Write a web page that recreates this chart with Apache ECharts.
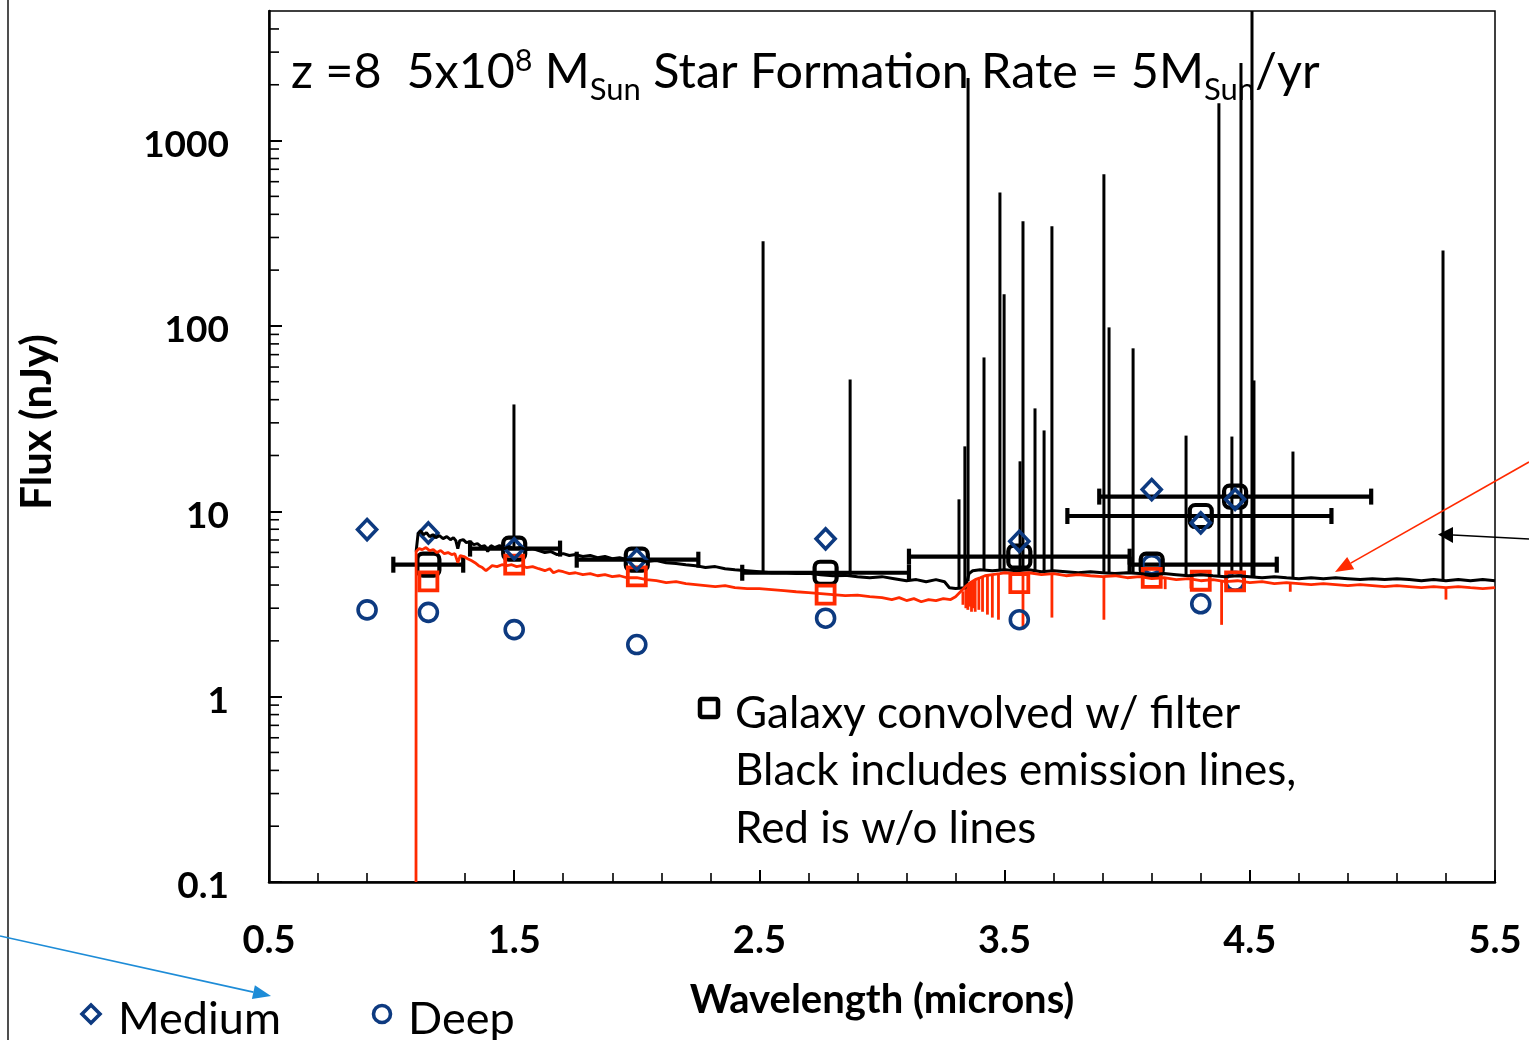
<!DOCTYPE html>
<html>
<head>
<meta charset="utf-8">
<script src="https://cdn.jsdelivr.net/npm/echarts@6/dist/echarts.min.js"></script>
<style>
html,body{margin:0;padding:0;background:#fff;}
#chart{width:1529px;height:1040px;}
</style>
</head>
<body>
<div id="chart"></div>
<script>
// ---------------- DATA ----------------
// Black spectrum continuum (with lines model), [wavelength micron, flux nJy]
const blackCont = [
[1.100,6.06],[1.108,7.57],[1.118,7.86],[1.130,7.48],[1.142,7.67],[1.155,7.30],[1.168,7.48],[1.180,7.21],
[1.195,7.39],[1.210,7.12],[1.225,7.30],[1.240,7.03],[1.252,7.21],[1.262,6.94],[1.270,6.29],[1.278,6.94],
[1.292,7.03],[1.305,6.77],[1.320,6.86],[1.335,6.61],[1.350,6.69],[1.365,6.45],[1.380,6.53],[1.392,6.06],
[1.405,6.53],[1.420,6.37],[1.440,6.53],[1.460,6.29],[1.480,6.45],[1.500,6.29],[1.525,6.37],[1.550,6.21],
[1.575,6.29],[1.600,6.14],[1.625,5.99],[1.650,6.06],[1.675,5.84],[1.700,5.91],[1.725,5.77],[1.750,5.84],
[1.780,5.70],[1.810,5.77],[1.840,5.62],[1.870,5.70],[1.900,5.55],[1.930,5.62],[1.960,5.48],[2.000,5.48],
[2.040,5.35],[2.080,5.42],[2.120,5.28],[2.160,5.22],[2.200,5.15],[2.240,5.09],[2.280,4.97],[2.320,5.03],
[2.360,4.90],[2.400,4.84],[2.450,4.78],[2.500,4.72],[2.550,4.66],[2.600,4.68],[2.650,4.61],[2.700,4.63],
[2.750,4.55],[2.800,4.49],[2.850,4.51],[2.900,4.44],[2.950,4.38],[3.000,4.44],[3.050,4.33],[3.100,4.22],
[3.140,4.28],[3.180,4.17],[3.220,4.28],[3.255,4.17],[3.275,3.87],[3.300,3.83],[3.340,3.87],[3.355,4.61],
[3.370,4.78],[3.400,4.84],[3.450,4.78],[3.500,4.84],[3.550,4.78],[3.600,4.84],[3.650,4.72],[3.700,4.78],
[3.750,4.72],[3.800,4.66],[3.850,4.72],[3.900,4.66],[3.950,4.61],[4.000,4.66],[4.050,4.61],[4.100,4.55],
[4.150,4.61],[4.200,4.55],[4.250,4.49],[4.300,4.55],[4.350,4.49],[4.400,4.44],[4.450,4.49],[4.500,4.44],
[4.550,4.38],[4.600,4.44],[4.650,4.38],[4.700,4.33],[4.750,4.38],[4.800,4.33],[4.850,4.38],[4.900,4.33],
[4.950,4.28],[5.000,4.33],[5.050,4.28],[5.100,4.33],[5.150,4.28],[5.200,4.22],[5.250,4.28],[5.300,4.22],
[5.350,4.28],[5.400,4.22],[5.450,4.28],[5.500,4.22]
];
// Emission lines in black spectrum: [wavelength, continuum base, peak]
const emissionLines = [
[1.499,6.3,37.7],[2.515,4.7,286],[2.870,4.47,51.4],[3.314,3.85,11.6],[3.338,3.87,22.4],[3.351,4.2,2174],
[3.416,4.8,67.6],[3.481,4.8,525],[3.498,4.84,148],[3.563,4.8,18.6],[3.575,4.8,367],[3.624,4.8,35.9],
[3.661,4.75,27.3],[3.693,4.78,345],[3.905,4.66,659],[3.926,4.64,98.2],[4.024,4.64,75.7],[4.240,4.5,25.6],
[4.374,4.47,1590],[4.427,4.46,25.3],[4.464,4.47,2618],[4.509,4.44,5000],[4.517,4.43,50.8],[4.676,4.36,21.0],
[5.288,4.23,255]
];
// Red spectrum (without lines)
const redCont = [
[1.0995,0.1],[1.100,6.06],[1.112,6.29],[1.125,6.21],[1.140,6.37],[1.155,6.14],[1.170,6.21],[1.185,5.99],
[1.200,6.14],[1.215,5.91],[1.230,5.99],[1.245,5.84],[1.258,5.91],[1.270,5.28],[1.280,5.77],[1.295,5.70],
[1.310,5.55],[1.325,5.42],[1.340,5.28],[1.355,5.09],[1.370,4.97],[1.385,4.78],[1.395,4.90],[1.410,5.09],
[1.430,5.03],[1.450,5.15],[1.470,5.09],[1.490,5.15],[1.510,5.03],[1.530,5.09],[1.550,4.97],[1.575,5.03],
[1.600,4.90],[1.625,4.78],[1.645,4.90],[1.660,4.66],[1.680,4.78],[1.700,4.72],[1.725,4.61],[1.750,4.66],
[1.780,4.55],[1.810,4.61],[1.840,4.49],[1.870,4.55],[1.900,4.44],[1.930,4.49],[1.960,4.38],[2.000,4.38],
[2.040,4.28],[2.080,4.22],[2.120,4.12],[2.160,4.17],[2.200,4.07],[2.240,4.02],[2.280,3.97],[2.320,3.92],
[2.360,3.97],[2.400,3.87],[2.450,3.83],[2.500,3.83],[2.550,3.78],[2.600,3.73],[2.650,3.68],[2.700,3.64],
[2.750,3.60],[2.800,3.55],[2.850,3.51],[2.900,3.53],[2.950,3.46],[3.000,3.42],[3.040,3.34],[3.070,3.42],
[3.100,3.30],[3.130,3.38],[3.160,3.25],[3.190,3.34],[3.220,3.30],[3.250,3.38],[3.280,3.34],[3.300,3.46],
[3.320,3.68],[3.340,3.92],[3.360,4.12],[3.380,4.28],[3.400,4.38],[3.420,4.49],[3.450,4.55],[3.480,4.61],
[3.500,4.66],[3.550,4.61],[3.600,4.66],[3.650,4.55],[3.700,4.61],[3.750,4.49],[3.800,4.55],[3.850,4.49],
[3.900,4.44],[3.950,4.49],[4.000,4.38],[4.050,4.44],[4.100,4.33],[4.150,4.38],[4.200,4.28],[4.250,4.33],
[4.300,4.22],[4.350,4.28],[4.400,4.17],[4.450,4.22],[4.500,4.12],[4.550,4.17],[4.600,4.07],[4.650,4.12],
[4.700,4.07],[4.750,4.02],[4.800,4.07],[4.850,4.02],[4.900,3.97],[4.950,4.02],[5.000,3.97],[5.050,3.92],
[5.100,3.97],[5.150,3.92],[5.200,3.87],[5.250,3.92],[5.300,3.87],[5.350,3.92],[5.400,3.87],[5.450,3.83],
[5.500,3.87]
];
// Absorption dips in red spectrum: [wavelength, base, dip]
const redDips = [
[3.330,3.70,3.13],[3.342,3.90,3.00],[3.350,4.00,2.94],[3.358,4.08,3.06],[3.365,4.15,2.87],[3.373,4.20,3.00],
[3.380,4.28,2.87],[3.395,4.35,2.94],[3.410,4.45,2.87],[3.430,4.50,2.77],[3.450,4.55,2.67],[3.475,4.60,2.60],
[3.575,4.65,2.30],[3.693,4.60,2.67],[3.905,4.45,2.60],[4.155,4.38,3.80],[4.260,4.33,3.83],[4.385,4.20,2.44],
[4.665,4.10,3.68],[5.300,3.88,3.34]
];
// Survey depths per filter
const filterWave = [0.90,1.15,1.50,2.00,2.77,3.56,4.10,4.30,4.44];
const mediumDepth = [7.97,7.64,6.27,5.48,7.10,6.89,13.1,8.66,11.6];
const deepDepth = [2.94,2.85,2.30,1.91,2.65,2.60,5.15,3.17,4.19];
// Galaxy convolved with filters
const galaxyWave = [1.15,1.50,2.00,2.77,3.56,4.10,4.30,4.44];
const galaxyLines = [5.15,6.29,5.48,4.66,5.69,5.15,9.43,12.0];
const galaxyNoLines = [4.19,5.15,4.46,3.55,4.10,4.37,4.22,4.19];
const bandLo = [1.007,1.32,1.755,2.43,3.11,4.01,3.756,3.886];
const bandHi = [1.292,1.687,2.251,3.11,4.01,4.61,4.833,4.995];
// Axis ticks
const yMinorTicks = [0.2,0.3,0.4,0.5,0.6,0.7,0.8,0.9,2,3,4,5,6,7,8,9,20,30,40,50,60,70,80,90,200,300,400,500,600,700,800,900,2000,3000,4000];

// ---------------- CHART ----------------
const NAVY = '#0d3a80';
const RED = '#ff2a00';
const FONT = 'Lato, "Open Sans", "DejaVu Sans", sans-serif';

const chart = echarts.init(document.getElementById('chart'), null, {renderer: 'canvas'});

const errData = galaxyWave.map((w, i) => [w, galaxyLines[i], bandLo[i], bandHi[i]]);

function arrow(tail, tip, base1, base2, color) {
  return [
    {type: 'line', shape: {x1: tail[0], y1: tail[1], x2: (base1[0]+base2[0])/2, y2: (base1[1]+base2[1])/2},
     style: {stroke: color, lineWidth: 1.6}, z: 100},
    {type: 'polygon', shape: {points: [tip, base1, base2]}, style: {fill: color}, z: 100}
  ];
}

const option = {
  animation: false,
  backgroundColor: '#fff',
  grid: {left: 269, right: 34, top: 11, bottom: 158, show: true, borderColor: '#000', borderWidth: 1.5,
         backgroundColor: 'transparent'},
  xAxis: {
    type: 'value', min: 0.5, max: 5.5, interval: 1,
    name: 'Wavelength (microns)', nameLocation: 'middle', nameGap: 98,
    nameTextStyle: {fontFamily: FONT, fontWeight: 'bold', fontSize: 40, color: '#000'},
    axisLine: {show: true, onZero: false, lineStyle: {color: '#000', width: 2.5}},
    axisTick: {show: true, inside: true, length: 12, lineStyle: {color: '#000', width: 2}},
    minorTick: {show: true, splitNumber: 5, length: 9, lineStyle: {color: '#000', width: 1.6}},
    splitLine: {show: false},
    axisLabel: {margin: 40, fontFamily: FONT, fontWeight: 'bold', fontSize: 38, color: '#000',
                formatter: v => v.toFixed(1)}
  },
  yAxis: {
    type: 'log', logBase: 10, min: 0.1, max: 5000,
    axisLine: {show: true, lineStyle: {color: '#000', width: 2.5}},
    axisTick: {show: true, inside: true, length: 13, lineStyle: {color: '#000', width: 2}},
    minorTick: {show: false},
    splitLine: {show: false},
    axisLabel: {margin: 40, fontFamily: FONT, fontWeight: 'bold', fontSize: 37, color: '#000',
                showMaxLabel: false,
                rich: {t: {fontFamily: FONT, fontWeight: 'bold', fontSize: 37, color: '#000', padding: [9, 0, 0, 0]}},
                formatter: v => '{t|' + (v < 0.5 ? '0.1' : String(Math.round(v))) + '}'}
  },
  series: [
    {type: 'line', name: 'With lines', data: blackCont, symbol: 'none', clip: true,
     lineStyle: {color: '#000', width: 3}, silent: true},
    {type: 'custom', name: 'Emission lines', data: emissionLines, encode: {x: 0, y: [1, 2]}, silent: true,
     renderItem: (params, api) => {
       const a = api.coord([api.value(0), api.value(1)]);
       const b = api.coord([api.value(0), api.value(2)]);
       const top = params.coordSys.y;
       return {type: 'line', shape: {x1: a[0], y1: a[1], x2: b[0], y2: Math.max(b[1], top)},
               style: {stroke: '#000', lineWidth: 3}};
     }},
    {type: 'line', name: 'Without lines', data: redCont, symbol: 'none', clip: true,
     lineStyle: {color: RED, width: 2.8}, silent: true},
    {type: 'custom', name: 'Absorption', data: redDips, encode: {x: 0, y: [1, 2]}, silent: true,
     renderItem: (params, api) => {
       const a = api.coord([api.value(0), api.value(1)]);
       const b = api.coord([api.value(0), api.value(2)]);
       return {type: 'line', shape: {x1: a[0], y1: a[1], x2: b[0], y2: b[1]},
               style: {stroke: RED, lineWidth: 2.8}};
     }},
    {type: 'custom', name: 'Filter width', data: errData, encode: {x: [0, 2, 3], y: 1}, silent: true,
     renderItem: (params, api) => {
       const y = api.coord([api.value(0), api.value(1)])[1];
       const lo = api.coord([api.value(2), api.value(1)])[0];
       const hi = api.coord([api.value(3), api.value(1)])[0];
       const st = {stroke: '#000', lineWidth: 4.2};
       return {type: 'group', children: [
         {type: 'line', shape: {x1: lo, y1: y, x2: hi, y2: y}, style: st},
         {type: 'line', shape: {x1: lo, y1: y - 8, x2: lo, y2: y + 8}, style: st},
         {type: 'line', shape: {x1: hi, y1: y - 8, x2: hi, y2: y + 8}, style: st}
       ]};
     }},
    {type: 'scatter', name: 'Deep', data: filterWave.map((w, i) => [w, deepDepth[i]]),
     symbol: 'circle', symbolSize: 18,
     itemStyle: {color: 'rgba(0,0,0,0)', borderColor: NAVY, borderWidth: 3.6, opacity: 1}, silent: true},
    {type: 'scatter', name: 'Galaxy convolved w/ filter', data: galaxyWave.map((w, i) => [w, galaxyLines[i]]),
     symbol: 'roundRect', symbolSize: 22,
     itemStyle: {color: 'rgba(0,0,0,0)', borderColor: '#000', borderWidth: 4.2, opacity: 1}, silent: true},
    {type: 'scatter', name: 'Galaxy w/o lines', data: galaxyWave.map((w, i) => [w, galaxyNoLines[i]]),
     symbol: 'rect', symbolSize: 18,
     itemStyle: {color: 'rgba(0,0,0,0)', borderColor: RED, borderWidth: 3.8, opacity: 1}, silent: true},
    {type: 'scatter', name: 'Medium', data: filterWave.map((w, i) => [w, mediumDepth[i]]),
     symbol: 'diamond', symbolSize: [19, 20],
     itemStyle: {color: 'rgba(0,0,0,0)', borderColor: NAVY, borderWidth: 3.6, opacity: 1}, silent: true},
    {type: 'custom', name: 'y minor ticks', data: yMinorTicks.map(v => [0.5, v]), encode: {x: 0, y: 1}, silent: true,
     renderItem: (params, api) => {
       const p = api.coord([api.value(0), api.value(1)]);
       return {type: 'line', shape: {x1: p[0], y1: p[1], x2: p[0] + 10, y2: p[1]},
               style: {stroke: '#000', lineWidth: 1.6}};
     }}
  ],
  graphic: [
    // left page border
    {type: 'line', shape: {x1: 8, y1: 0, x2: 8, y2: 1040}, style: {stroke: '#222', lineWidth: 1.6}},
    // y axis title
    {type: 'text', x: 37, y: 422, rotation: Math.PI / 2,
     style: {text: 'Flux (nJy)', fontFamily: FONT, fontWeight: 'bold', fontSize: 42, fill: '#000',
             align: 'center', verticalAlign: 'middle'}},
    // title
    {type: 'text', x: 291, y: 72, z: 50,
     style: {
       text: 'z =8  5x10{sup|8} M{sub|Sun} Star Formation Rate = 5M{sub|Sun}/yr',
       fontFamily: FONT, fontSize: 48.5, fill: '#000', align: 'left', verticalAlign: 'middle',
       rich: {
         sup: {fontFamily: FONT, fontSize: 30, fill: '#000', padding: [0, 0, 22, 0]},
         sub: {fontFamily: FONT, fontSize: 31, fill: '#000', padding: [36, 0, 0, 0]}
       }
     }},
    // in-plot key
    {type: 'rect', shape: {x: 700, y: 699, width: 18, height: 18, r: 2},
     style: {fill: 'none', stroke: '#000', lineWidth: 4.5}, z: 50},
    {type: 'text', x: 735, y: 714, z: 50,
     style: {text: 'Galaxy convolved w/ filter', fontFamily: FONT, fontSize: 44, fill: '#000', align: 'left', verticalAlign: 'middle'}},
    {type: 'text', x: 735, y: 771, z: 50,
     style: {text: 'Black includes emission lines,', fontFamily: FONT, fontSize: 44, fill: '#000', align: 'left', verticalAlign: 'middle'}},
    {type: 'text', x: 735, y: 829, z: 50,
     style: {text: 'Red is w/o lines', fontFamily: FONT, fontSize: 44, fill: '#000', align: 'left', verticalAlign: 'middle'}},
    // bottom legend
    {type: 'polygon', shape: {points: [[91, 1005], [100, 1014], [91, 1023], [82, 1014]]},
     style: {fill: 'none', stroke: NAVY, lineWidth: 3.6}},
    {type: 'text', x: 118, y: 1019,
     style: {text: 'Medium', fontFamily: FONT, fontSize: 45, fill: '#000', align: 'left', verticalAlign: 'middle'}},
    {type: 'circle', shape: {cx: 382, cy: 1014, r: 8.5},
     style: {fill: 'none', stroke: NAVY, lineWidth: 3.6}},
    {type: 'text', x: 408, y: 1019,
     style: {text: 'Deep', fontFamily: FONT, fontSize: 45, fill: '#000', align: 'left', verticalAlign: 'middle'}},
    // arrows
    ...arrow([1529, 462], [1335, 572], [1354.2, 569.2], [1347.2, 557.0], RED),
    ...arrow([1529, 539], [1438, 534.5], [1453, 527], [1453, 543], '#000'),
    ...arrow([0, 936], [271, 996], [254.9, 985.3], [251.9, 998.9], '#1e8cd7')
  ]
};
chart.setOption(option);
</script>
</body>
</html>
